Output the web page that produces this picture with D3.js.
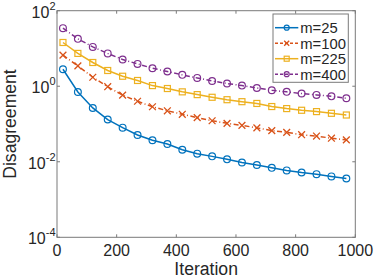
<!DOCTYPE html>
<html>
<head>
<meta charset="utf-8">
<script src="https://cdn.jsdelivr.net/npm/d3@7"></script>
<style>
  body { margin: 0; background: #fff; }
  svg text { font-family: "Liberation Sans", Arial, sans-serif; fill: #262626; }
</style>
</head>
<body>
<div id="chart"></div>
<script>
// data
var iterations = [20, 70, 120, 170, 220, 270, 320, 370, 420, 470, 520, 570, 620, 670, 720, 770, 820, 870, 920, 970]
var m25  = [2.82, 0.706, 0.266, 0.131, 0.080, 0.051, 0.037, 0.0295, 0.0209, 0.0164, 0.0139, 0.0116, 0.0096, 0.0082, 0.0069, 0.0059, 0.0052, 0.0047, 0.0041, 0.0036]
var m100 = [6.64, 3.45, 1.73, 0.97, 0.58, 0.40, 0.286, 0.224, 0.181, 0.148, 0.122, 0.104, 0.092, 0.079, 0.067, 0.060, 0.052, 0.048, 0.042, 0.038]
var m225 = [14.4, 7.4, 4.25, 2.61, 1.84, 1.42, 1.04, 0.87, 0.71, 0.60, 0.51, 0.44, 0.39, 0.35, 0.29, 0.256, 0.231, 0.213, 0.192, 0.173]
var m400 = [34.5, 18, 11, 7.4, 5.1, 3.9, 3.0, 2.45, 2.0, 1.66, 1.38, 1.18, 1.04, 0.90, 0.78, 0.71, 0.64, 0.59, 0.54, 0.48]
var seriesNames = ['m=25', 'm=100', 'm=225', 'm=400']
var xTicks = [0, 200, 400, 600, 800, 1000]
var yTickExps = [-4, -2, 0, 2]

var series = [
    {name: seriesNames[0], values: m25,  color: '#0072BD', dash: null,          marker: 'circle'},
    {name: seriesNames[1], values: m100, color: '#D95319', dash: '5,2.5,1,2.5', marker: 'cross'},
    {name: seriesNames[2], values: m225, color: '#EDB120', dash: null,          marker: 'square'},
    {name: seriesNames[3], values: m400, color: '#7E2F8E', dash: '5,2.5,1,2.5', marker: 'circle'}
]

// layout (plot box)
var W = 374, H = 280
var pLeft = 57, pRight = 355.3, pTop = 10.7, pBottom = 237.3
var axisColor = '#7a7a7a'

var svg = d3.select('#chart').append('svg')
    .attr('width', W)
    .attr('height', H)

var x = d3.scaleLinear().domain([0, 1000]).range([pLeft, pRight])
var y = d3.scaleLog().domain([1e-4, 1e2]).range([pBottom, pTop])

// box
svg.append('rect')
    .attr('x', pLeft).attr('y', pTop)
    .attr('width', pRight - pLeft).attr('height', pBottom - pTop)
    .attr('fill', 'none')
    .attr('stroke', axisColor)
    .attr('stroke-width', 1)

// x ticks (bottom + top, inward)
xTicks.forEach(function(t) {
    svg.append('line')
        .attr('x1', x(t)).attr('x2', x(t))
        .attr('y1', pBottom).attr('y2', pBottom - 3)
        .attr('stroke', axisColor)
    svg.append('line')
        .attr('x1', x(t)).attr('x2', x(t))
        .attr('y1', pTop).attr('y2', pTop + 3)
        .attr('stroke', axisColor)
    svg.append('text')
        .attr('x', x(t))
        .attr('y', 256)
        .attr('text-anchor', 'middle')
        .attr('font-size', 16)
        .text(t)
})

// y ticks (left + right, inward) with 10^n labels
yTickExps.forEach(function(e) {
    var yy = y(Math.pow(10, e))
    svg.append('line')
        .attr('x1', pLeft).attr('x2', pLeft + 3)
        .attr('y1', yy).attr('y2', yy)
        .attr('stroke', axisColor)
    svg.append('line')
        .attr('x1', pRight).attr('x2', pRight - 3)
        .attr('y1', yy).attr('y2', yy)
        .attr('stroke', axisColor)
    var lab = svg.append('text')
        .attr('x', 55.5)
        .attr('y', yy + 7)
        .attr('text-anchor', 'end')
        .attr('font-size', 16)
    lab.append('tspan').text('10')
    lab.append('tspan')
        .attr('dy', -8)
        .attr('font-size', 11)
        .text(e)
})

// axis labels
svg.append('text')
    .attr('x', (pLeft + pRight) / 2)
    .attr('y', 275)
    .attr('text-anchor', 'middle')
    .attr('font-size', 17.6)
    .text('Iteration')

svg.append('text')
    .attr('transform', 'translate(16,' + ((pTop + pBottom) / 2) + ') rotate(-90)')
    .attr('text-anchor', 'middle')
    .attr('font-size', 17.6)
    .text('Disagreement')

// markers
function drawMarker(g, kind, cx, cy, r, color) {
    if (kind == 'circle') {
        g.append('circle')
            .attr('cx', cx).attr('cy', cy).attr('r', r)
            .attr('fill', 'none').attr('stroke', color).attr('stroke-width', 1.2)
    } else if (kind == 'square') {
        g.append('rect')
            .attr('x', cx - r).attr('y', cy - r)
            .attr('width', 2 * r).attr('height', 2 * r)
            .attr('fill', 'none').attr('stroke', color).attr('stroke-width', 1.2)
    } else {
        g.append('path')
            .attr('d', 'M' + (cx - r) + ',' + (cy - r) + 'L' + (cx + r) + ',' + (cy + r) +
                       'M' + (cx - r) + ',' + (cy + r) + 'L' + (cx + r) + ',' + (cy - r))
            .attr('stroke', color).attr('stroke-width', 1.3)
    }
}

var line = d3.line()
    .x(function(d, i) { return x(iterations[i]) })
    .y(function(d) { return y(d) })

series.forEach(function(s) {
    var g = svg.append('g')
    g.append('path')
        .datum(s.values)
        .attr('d', line)
        .attr('fill', 'none')
        .attr('stroke', s.color)
        .attr('stroke-width', 1.5)
        .attr('stroke-dasharray', s.dash)
    s.values.forEach(function(v, i) {
        drawMarker(g, s.marker, x(iterations[i]), y(v), s.marker == 'square' ? 3 : 3.4, s.color)
    })
})

// legend
var lg = svg.append('g')
lg.append('rect')
    .attr('x', 273).attr('y', 14)
    .attr('width', 75.3).attr('height', 68.3)
    .attr('fill', '#fff')
    .attr('stroke', axisColor)
series.forEach(function(s, i) {
    var ly = 27.7 + i * 15.5
    lg.append('line')
        .attr('x1', 275).attr('x2', 298.3)
        .attr('y1', ly).attr('y2', ly)
        .attr('stroke', s.color)
        .attr('stroke-width', 1.5)
        .attr('stroke-dasharray', s.dash ? '3,2' : null)
    drawMarker(lg, s.marker, 286.7, ly, 2.5, s.color)
    lg.append('text')
        .attr('x', 300.3)
        .attr('y', ly + 5.3)
        .attr('font-size', 14.8)
        .text(s.name)
})
</script>
</body>
</html>
